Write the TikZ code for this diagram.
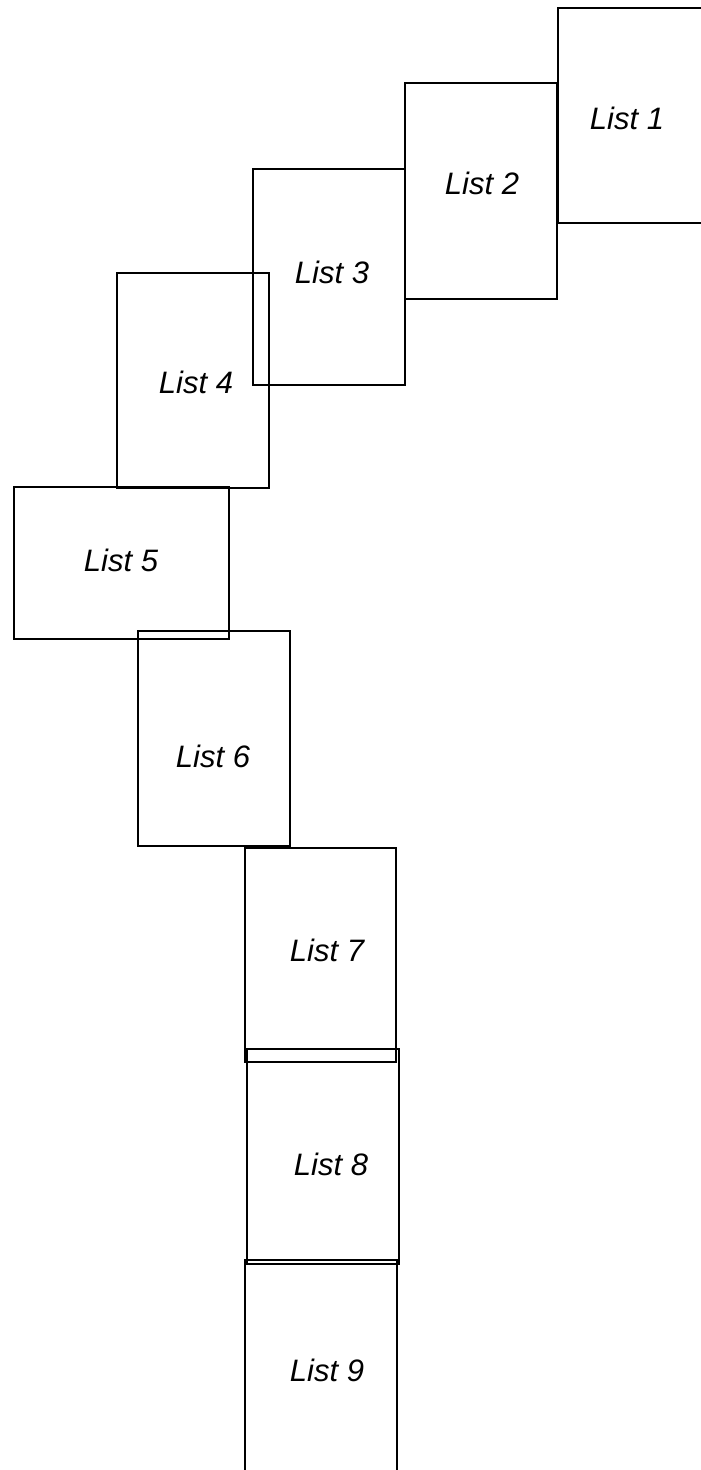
\documentclass[tikz,border=0pt]{standalone}
\usepackage{fontspec}
\setmainfont{Liberation Sans}
\begin{document}
\begin{tikzpicture}[x=1pt,y=-1pt,
  listbox/.style={draw=black, line width=1.1pt, inner sep=0pt, outer sep=0pt, minimum width=152pt, minimum height=216pt},
  listtext/.style={inner sep=0pt, font=\itshape\fontsize{31}{36}\selectfont}]
\useasboundingbox (0,0) rectangle (701,1470);
\clip (0,0) rectangle (701,1470);
\fill[white] (0,0) rectangle (701,1470);
% boxes
\node[listbox, minimum height=215pt] (b1) at (634,115.5) {};
\node[listbox] (b2) at (481,191) {};
\node[listbox] (b3) at (329,277) {};
\node[listbox, minimum height=215pt] (b4) at (193,380.5) {};
\node[listbox, minimum width=215pt, minimum height=152pt] (b5) at (121.5,563) {};
\node[listbox, minimum height=215pt] (b6) at (214,738.5) {};
\node[listbox, minimum width=151pt, minimum height=214pt] (b7) at (320.5,955) {};
\node[listbox, minimum height=215pt] (b8) at (323,1156.5) {};
\node[listbox] (b9) at (321,1368) {};
% labels
\node[listtext] (t1) at (627,118) {List 1};
\node[listtext] (t2) at (482,183) {List 2};
\node[listtext] (t3) at (332,272) {List 3};
\node[listtext] (t4) at (196,382) {List 4};
\node[listtext] (t5) at (121,560) {List 5};
\node[listtext] (t6) at (213,756) {List 6};
\node[listtext] (t7) at (327,950) {List 7};
\node[listtext] (t8) at (331,1164) {List 8};
\node[listtext] (t9) at (327,1370) {List 9};
\end{tikzpicture}
\end{document}
